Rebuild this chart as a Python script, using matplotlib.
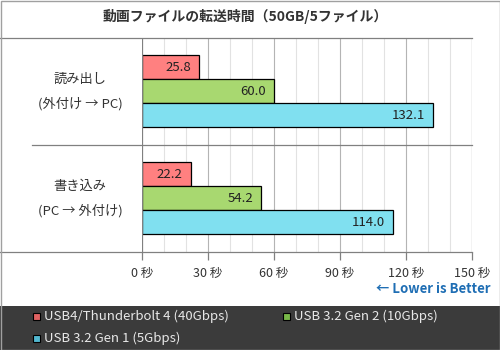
import matplotlib
matplotlib.use("Agg")
import matplotlib.pyplot as plt
from matplotlib.lines import Line2D
from matplotlib.patches import Rectangle
import matplotlib.transforms as mtransforms
import numpy as np

plt.rcParams['font.family'] = ['Noto Sans CJK JP', 'DejaVu Sans']

title = "動画ファイルの転送時間（50GB/5ファイル）"
categories = [("読み出し", "(外付け → PC)"), ("書き込み", "(PC → 外付け)")]
series_names = ["USB4/Thunderbolt 4 (40Gbps)", "USB 3.2 Gen 2 (10Gbps)", "USB 3.2 Gen 1 (5Gbps)"]
series_values = [
    [25.8, 22.2],
    [60.0, 54.2],
    [132.1, 114.0],
]
xticks = [0, 30, 60, 90, 120, 150]
xtick_labels = ["0 秒", "30 秒", "60 秒", "90 秒", "120 秒", "150 秒"]
note = "← Lower is Better"

bar_colors = ["#ff8080", "#a8d870", "#80e0f0"]
legend_colors = ["#e06262", "#78b848", "#52b8d0"]

W, H = 500, 350
fig = plt.figure(figsize=(W / 100, H / 100), dpi=100)
fig.patch.set_facecolor("white")

x0, x1 = 142, 472
y_top, y_bot = 38, 251.7
ax = fig.add_axes([x0 / W, 1 - y_bot / H, (x1 - x0) / W, (y_bot - y_top) / H])
ax.set_xlim(0, 150)
ax.set_ylim(1.5, -0.5)

# grid
for v in np.arange(10, 150, 10):
    ax.axvline(v, color="#b4b4b4" if v % 30 == 0 else "#e2e2e2", lw=0.8, zorder=0)
ax.axvline(150, color="#a0a0a0", lw=0.9, zorder=0)

bar_h = 24 / 107
n = len(series_values)
ypos = np.arange(len(categories))
for i, (vals, col) in enumerate(zip(series_values, bar_colors)):
    offs = (i - (n - 1) / 2) * bar_h
    ys = ypos + offs
    ax.barh(ys, vals, height=bar_h, color=col, edgecolor="black", linewidth=0.9, zorder=3)
    for y, v in zip(ys, vals):
        ax.text(v - 150 * 8 / 330, y, f"{v:.1f}", ha="right", va="center",
                fontsize=9.5, color="#222222", zorder=4)

for s in ["top", "right", "left", "bottom"]:
    ax.spines[s].set_visible(False)
ax.set_yticks([])
ax.set_xticks(xticks)
ax.set_xticklabels(xtick_labels, fontsize=9, color="#333333")
ax.tick_params(axis="x", length=6, width=0.9, color="#808080", pad=5)

# left axis line at zero
ax.axvline(0, color="#808080", lw=0.9, zorder=5)

# category separator and labels
blend = mtransforms.blended_transform_factory(ax.transAxes, ax.transData)
for k in range(len(categories) - 1):
    ax.add_line(Line2D([(32 - x0) / (x1 - x0), 1], [k + 0.5, k + 0.5],
                       transform=blend, color="#808080", lw=0.9, clip_on=False, zorder=5))
cx = (80 - x0) / (x1 - x0)
for k, (l1, l2) in enumerate(categories):
    ax.text(cx, k - 12 / 107, l1, transform=blend, ha="center", va="center",
            fontsize=9.5, color="#333333", clip_on=False)
    ax.text(cx, k + 12 / 107, l2, transform=blend, ha="center", va="center",
            fontsize=9.5, color="#333333", clip_on=False)

# horizontal frame lines spanning the figure
for yy in (y_top, y_bot):
    fig.add_artist(Line2D([0, x1 / W], [1 - yy / H, 1 - yy / H],
                          transform=fig.transFigure, color="#808080", lw=0.9))

fig.text(245 / W, 1 - 16 / H, title, ha="center", va="center",
         fontsize=10, fontweight="bold", color="#333333")

fig.text(490 / W, 1 - 289 / H, note, ha="right", va="center",
         fontsize=9.5, fontweight="bold", color="#1f6eb4")

# legend panel
leg_top = 305.5
fig.add_artist(Rectangle((0, 0), 1, 1 - leg_top / H, transform=fig.transFigure,
                         facecolor="#3b3b3b", edgecolor="none", zorder=1))
legend_pos = [(33, 316), (283, 316), (33, 338)]
for (lx, ly), name, col in zip(legend_pos, series_names, legend_colors):
    fig.add_artist(Rectangle((lx / W, 1 - (ly + 4) / H), 7 / W, 7 / H,
                             transform=fig.transFigure, facecolor=col,
                             edgecolor="black", lw=0.8, zorder=2))
    fig.text((lx + 11) / W, 1 - ly / H, name, ha="left", va="center",
             fontsize=9.5, color="#e8e8e8", zorder=3)

# outer border
fig.add_artist(Rectangle((0.5 / W, 0.5 / H), (W - 1) / W, (H - 1) / H,
                         transform=fig.transFigure, facecolor="none",
                         edgecolor="#a0a0a0", lw=1, zorder=4))

fig.savefig("out.png", dpi=100)
